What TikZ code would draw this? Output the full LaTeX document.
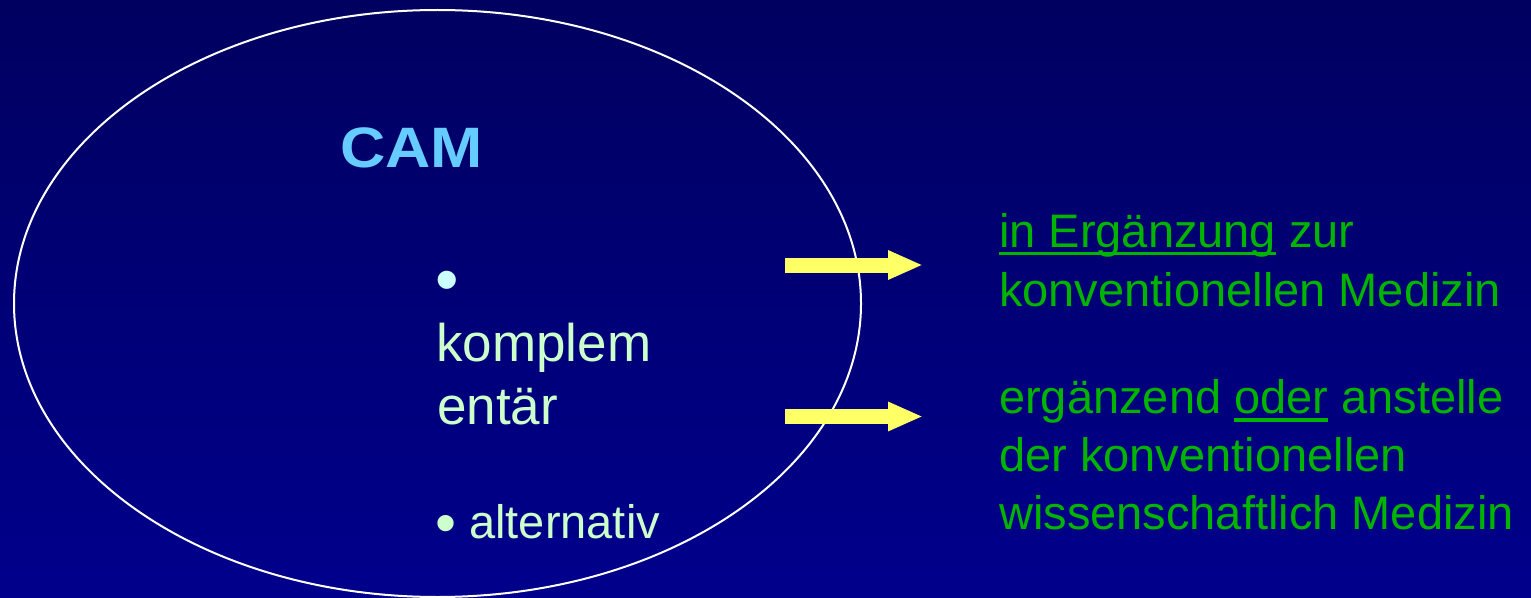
\documentclass[tikz,border=0pt]{standalone}
\usepackage{fontspec}
\setmainfont{Liberation Sans}
\usetikzlibrary{arrows.meta}

\definecolor{bgtop}{RGB}{0,0,96}
\definecolor{bgbot}{RGB}{0,0,140}
\definecolor{camblue}{RGB}{102,204,255}
\definecolor{palegreen}{RGB}{204,255,204}
\definecolor{palecyan}{RGB}{204,255,255}
\definecolor{medgreen}{RGB}{0,180,0}
\definecolor{arrowyellow}{RGB}{255,255,102}

% underline drawn at a fixed depth, crossing the descenders
\newcommand{\undl}[1]{\setbox0\hbox{#1}\rlap{\rule[-0.175em]{\wd0}{0.065em}}\box0\relax}
% a larger bullet, lowered to sit on the text line
\newcommand{\bigbul}[2]{{\fontsize{#1}{0bp}\selectfont\raisebox{#2}{•}}}

\tikzset{
  rtext/.style={anchor=base west, inner sep=0pt, text=medgreen,
    font=\fontsize{47bp}{58bp}\selectfont},
  ltext/.style={anchor=base west, inner sep=0pt, text=palegreen,
    font=\fontsize{53bp}{63bp}\selectfont},
  lsmall/.style={anchor=base west, inner sep=0pt, text=palegreen,
    font=\fontsize{47bp}{56bp}\selectfont},
  titletext/.style={anchor=base west, inner sep=0pt, text=camblue,
    font=\fontsize{57bp}{68bp}\selectfont\bfseries},
  blockarrow/.style={draw=arrowyellow, line width=15bp,
    -{Triangle[length=35bp,width=27bp]}},
  outline/.style={draw=white, line width=2bp}
}

\begin{document}
\begin{tikzpicture}[x=1bp, y=-1bp]
  \useasboundingbox (0,0) rectangle (1531,598);
  % background
  \shade[top color=bgtop, bottom color=bgbot] (0,0) rectangle (1531,598);

  % outline of the CAM field
  \draw[outline] (437.5,303.5) ellipse [x radius=423.5, y radius=293.5];

  % title
  \node[titletext] (cam) at (340,168) {\scalebox{1.1}[1]{CAM}};

  % bullet list inside the field
  \node[ltext, text=palecyan, font=\fontsize{67bp}{80bp}\selectfont] (bul1) at (435,302) {•};
  \node[ltext] (komp1) at (436,361) {komplem};
  \node[ltext] (komp2) at (437,424) {entär};
  \node[lsmall] (alt) at (435,538) {\bigbul{60bp}{-5.6bp} alternativ};

  % arrows
  \coordinate (a1s) at (785,265);
  \coordinate (a1e) at (923,265);
  \coordinate (a2s) at (785,416.5);
  \coordinate (a2e) at (923,416.5);
  \draw[blockarrow] (a1s) -- (a1e);
  \draw[blockarrow] (a2s) -- (a2e);

  % explanations
  \node[rtext] (r1) at (999,247) {\undl{in Ergänzung} zur};
  \node[rtext] (r2) at (999,306.5) {konventionellen Medizin};
  \node[rtext] (r3) at (999,413.3) {ergänzend \undl{oder} anstelle};
  \node[rtext] (r4) at (999,471.7) {der konventionellen};
  \node[rtext] (r5) at (999,529) {wissenschaftlich Medizin};
\end{tikzpicture}
\end{document}
